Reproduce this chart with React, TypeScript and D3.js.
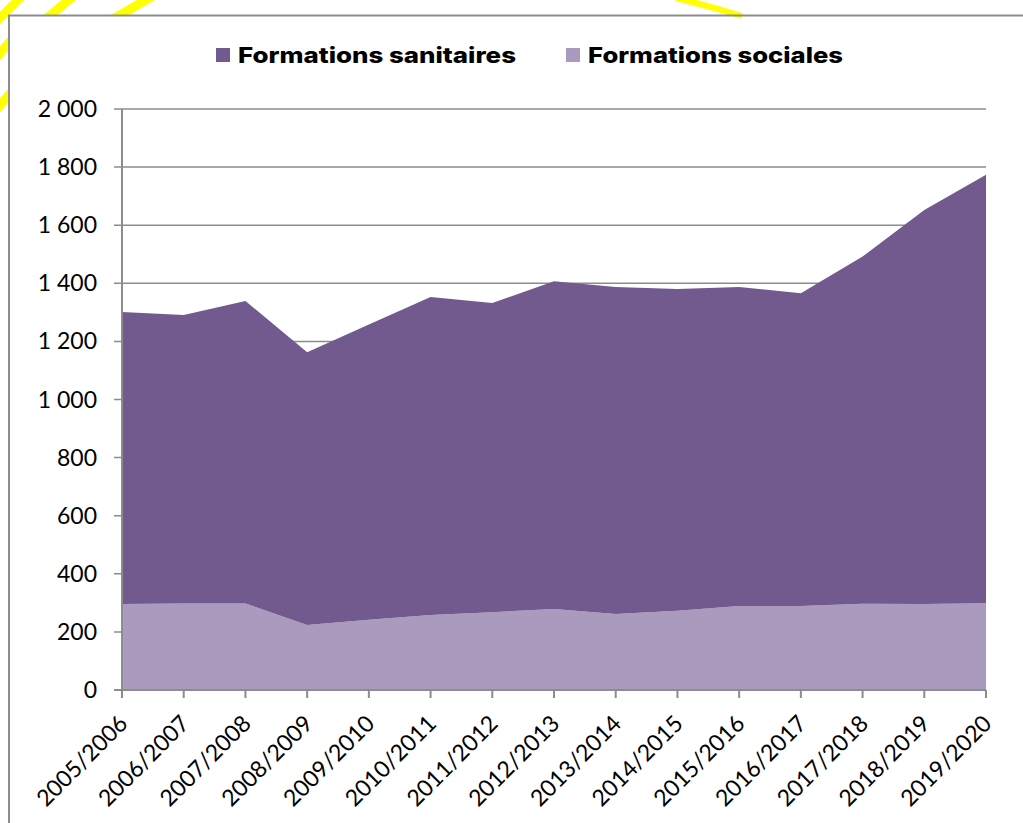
import React, { useEffect, useRef } from 'react';
import * as d3 from 'd3';

// années scolaires
const years = [
  '2005/2006', '2006/2007', '2007/2008', '2008/2009', '2009/2010',
  '2010/2011', '2011/2012', '2012/2013', '2013/2014', '2014/2015',
  '2015/2016', '2016/2017', '2017/2018', '2018/2019', '2019/2020'
];

// formations sociales (bas de la pile)
const sociales = [296, 298, 298, 224, 242, 258, 268, 279, 262, 273, 289, 289, 297, 296, 299];

const totals = [1301, 1291, 1339, 1163, 1258, 1353, 1332, 1407, 1387, 1380, 1387, 1366, 1492, 1652, 1774];
const sanitaires = totals.map((t, i) => t - sociales[i]);

const yTicks = [0, 200, 400, 600, 800, 1000, 1200, 1400, 1600, 1800, 2000];

const seriesNames = ['Formations sanitaires', 'Formations sociales'];
const colors = { sanitaires: '#725a8e', sociales: '#a99abe' };

function App() {
  const ref = useRef<SVGSVGElement>(null);

  useEffect(() => {
    const width = 1023;
    const height = 823;
    const svg = d3.select(ref.current);
    svg.selectAll('*').remove();

    const left = 122, right = 986, top = 109, bottom = 690;

    const x = d3.scalePoint<string>().domain(years).range([left, right]);
    const y = d3.scaleLinear().domain([0, 2000]).range([bottom, top]);

    // décor jaune hors du cadre
    const deco = svg.append('g')
      .attr('stroke', '#ffff00')
      .attr('stroke-width', 9)
      .attr('fill', 'none')
      .attr('stroke-linecap', 'butt');
    deco.append('clipPath').attr('id', 'outside')
      .append('path')
      .attr('d', `M0,0H${width}V15H9V${height}H0Z`);
    const stripes = deco.append('g').attr('clip-path', 'url(#outside)');
    [
      [-6, 24, 24, -6],
      [42, 22, 76, -6],
      [108, 22, 156, -6],
      [-6, 60, 20, 30],
      [-6, 112, 20, 82]
    ].forEach(([x1, y1, x2, y2]) => {
      stripes.append('line').attr('x1', x1).attr('y1', y1).attr('x2', x2).attr('y2', y2);
    });
    deco.append('path')
      .attr('stroke-width', 6)
      .attr('d', 'M676,-2 Q710,6 742,16');

    // cadre
    svg.append('path')
      .attr('d', `M9,${height}V15.5H${width}`)
      .attr('fill', 'none')
      .attr('stroke', '#8c8c8c')
      .attr('stroke-width', 2);

    // grille
    svg.append('g')
      .selectAll('line')
      .data(yTicks.filter(d => d > 0))
      .enter()
      .append('line')
      .attr('x1', left - 8)
      .attr('x2', right)
      .attr('y1', d => y(d))
      .attr('y2', d => y(d))
      .attr('stroke', '#8c8c8c')
      .attr('stroke-width', 1.5);

    // aires empilées
    const table = years.map((yr, i) => ({ year: yr, sociales: sociales[i], sanitaires: sanitaires[i] }));
    const stack = d3.stack<any>().keys(['sociales', 'sanitaires']);
    const layers = stack(table);
    const area = d3.area<any>()
      .x(d => x(d.data.year) as number)
      .y0(d => y(d[0]))
      .y1(d => y(d[1]));

    svg.append('g')
      .selectAll('path')
      .data(layers)
      .enter()
      .append('path')
      .attr('d', area)
      .attr('fill', d => (colors as any)[d.key]);

    // axe y
    svg.append('line')
      .attr('x1', left).attr('x2', left)
      .attr('y1', top).attr('y2', bottom + 8)
      .attr('stroke', '#8c8c8c').attr('stroke-width', 2);
    svg.append('line')
      .attr('x1', left - 8).attr('x2', right)
      .attr('y1', bottom).attr('y2', bottom)
      .attr('stroke', '#8c8c8c').attr('stroke-width', 2);

    svg.append('g')
      .selectAll('text')
      .data(yTicks)
      .enter()
      .append('text')
      .attr('x', 97)
      .attr('y', d => y(d) + 8)
      .attr('text-anchor', 'end')
      .attr('font-family', 'Lato, sans-serif')
      .attr('font-size', 23)
      .attr('fill', '#000')
      .text(d => d3.format(',')(d).replace(/,/g, ' '));

    // axe x
    const xg = svg.append('g');
    xg.selectAll('line')
      .data(years)
      .enter()
      .append('line')
      .attr('x1', d => x(d) as number)
      .attr('x2', d => x(d) as number)
      .attr('y1', bottom)
      .attr('y2', bottom + 8)
      .attr('stroke', '#8c8c8c')
      .attr('stroke-width', 2);
    xg.selectAll('text')
      .data(years)
      .enter()
      .append('text')
      .attr('text-anchor', 'end')
      .attr('font-family', 'Lato, sans-serif')
      .attr('font-size', 23)
      .attr('fill', '#000')
      .attr('transform', d => `translate(${(x(d) as number) + 7}, ${bottom + 35}) rotate(-45)`)
      .text(d => d);

    // légende
    const legend = [
      { name: seriesNames[0], color: colors.sanitaires, x: 216, w: 278 },
      { name: seriesNames[1], color: colors.sociales, x: 566, w: 255 }
    ];
    const lg = svg.append('g');
    legend.forEach(l => {
      lg.append('rect')
        .attr('x', l.x).attr('y', 48)
        .attr('width', 14).attr('height', 14)
        .attr('fill', l.color);
      lg.append('text')
        .attr('x', l.x + 22)
        .attr('y', 63)
        .attr('font-family', 'Inter, "Noto Sans", sans-serif')
        .attr('font-weight', 800)
        .attr('font-size', 22)
        .attr('textLength', l.w)
        .attr('lengthAdjust', 'spacingAndGlyphs')
        .attr('fill', '#000')
        .text(l.name);
    });
  }, []);

  return (
    <svg
      ref={ref}
      width={1023}
      height={823}
      style={{ position: 'absolute', top: 0, left: 0, background: '#fff' }}
    />
  );
}

export default App;
